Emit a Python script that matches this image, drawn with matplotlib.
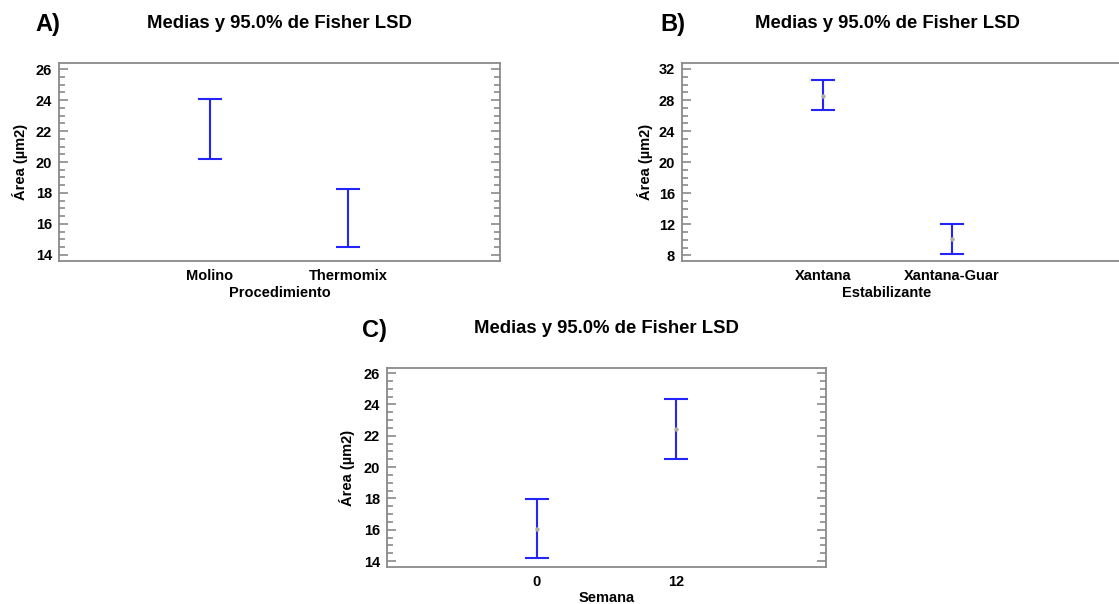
import matplotlib
matplotlib.use("Agg")
import matplotlib.pyplot as plt
from matplotlib.ticker import MultipleLocator

plt.rcParams['font.family'] = ['Liberation Sans', 'DejaVu Sans']
plt.rcParams['font.weight'] = 'bold'

# ---- data ----
cats_a = ["Molino", "Thermomix"]
mean_a = [22.13, 16.39]
low_a = [20.2, 14.5]
high_a = [24.05, 18.28]

cats_b = ["Xantana", "Xantana-Guar"]
mean_b = [28.55, 10.05]
low_b = [26.68, 8.13]
high_b = [30.58, 12.0]

cats_c = ["0", "12"]
mean_c = [16.07, 22.42]
low_c = [14.17, 20.53]
high_c = [17.99, 24.33]

title = "Medias y 95.0% de Fisher LSD"
ylabel = "Área (µm2)"

W, H = 1119, 604
fig = plt.figure(figsize=(W / 100, H / 100), dpi=100)
fig.patch.set_facecolor("white")

BLUE = "#2424ff"
GREY = "#8a8a8a"


def px_axes(l, t, r, b):
    return fig.add_axes([l / W, 1 - b / H, (r - l) / W, (b - t) / H])


def panel(box, cats, means, lows, highs, xlim, ylim, major, minor, xlabel,
          letter, letter_xy, title_xy, xlabel_y, ylabel_x, show_mean):
    l, t, r, b = box
    ax = px_axes(l, t, r, b)
    xs = list(range(1, len(cats) + 1))
    yerr = [[m - lo for m, lo in zip(means, lows)],
            [hi - m for m, hi in zip(means, highs)]]
    ax.errorbar(xs, means, yerr=yerr, fmt='none', ecolor=BLUE,
                elinewidth=1.5, capsize=8.6, capthick=1.5, zorder=3)
    if show_mean:
        ax.plot(xs, means, 'o', color="#b0b0a0", ms=2.2, zorder=4)
    ax.set_xlim(*xlim)
    ax.set_ylim(*ylim)
    ax.set_xticks(xs)
    ax.set_xticklabels(cats, fontsize=10.5, fontweight='bold')
    ax.tick_params(axis='x', length=0, pad=6)
    ax.yaxis.set_major_locator(MultipleLocator(major))
    ax.yaxis.set_minor_locator(MultipleLocator(minor))
    ax.tick_params(axis='y', which='both', direction='in', left=True,
                   right=True, color=GREY, width=1.2, labelsize=10.5, pad=5)
    ax.tick_params(axis='y', which='major', length=6.5)
    ax.tick_params(axis='y', which='minor', length=4)
    for lab in ax.get_yticklabels():
        lab.set_fontweight('bold')
    for s in ax.spines.values():
        s.set_color(GREY)
        s.set_linewidth(1.3)
    fig.text(title_xy[0] / W, 1 - title_xy[1] / H, title, fontsize=13.3,
             fontweight='bold', ha='center', va='center')
    fig.text(letter_xy[0] / W, 1 - letter_xy[1] / H, letter, fontsize=17,
             fontweight='bold', ha='left', va='center')
    fig.text(((l + r) / 2 if r <= W else title_xy[0]) / W, 1 - xlabel_y / H,
             xlabel, fontsize=10.5, fontweight='bold', ha='center',
             va='center')
    fig.text(ylabel_x / W, 1 - ((t + b) / 2) / H, ylabel, fontsize=10.5,
             fontweight='bold', ha='center', va='center', rotation=90)
    return ax


panel((59, 63, 500, 261), cats_a, mean_a, low_a, high_a,
      (-0.094, 3.10), (13.61, 26.39), 2, 0.5, "Procedimiento",
      "A)", (35, 24), (279.5, 24), 293, 20, False)

panel((682, 63, 1135, 261), cats_b, mean_b, low_b, high_b,
      (-0.093, 2 + (1135 - 952) / 129), (7.27, 32.77), 4, 1, "Estabilizante",
      "B)", (660, 24), (887, 24), 293, 645, True)

panel((387, 368, 826, 567), cats_c, mean_c, low_c, high_c,
      (-0.079, 3.08), (13.62, 26.32), 2, 0.5, "Semana",
      "C)", (362, 330), (606, 329), 598, 347, True)

fig.savefig("out.png", dpi=100, facecolor="white")
